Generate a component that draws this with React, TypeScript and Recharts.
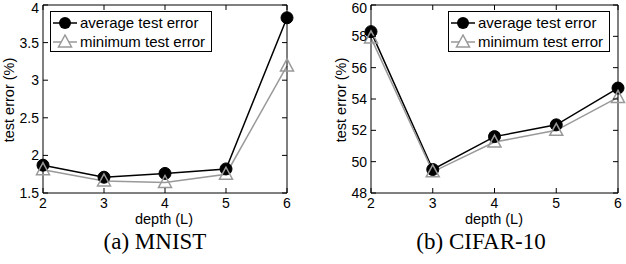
import React from "react";
import { Line, LineChart, XAxis, YAxis } from "recharts";

const depths = [2, 3, 4, 5, 6];
const mnistAvg = [1.87, 1.71, 1.76, 1.82, 3.83];
const mnistMin = [1.81, 1.66, 1.64, 1.75, 3.19];
const cifarAvg = [58.3, 49.5, 51.6, 52.35, 54.7];
const cifarMin = [57.9, 49.35, 51.25, 52.0, 54.1];
const mnistTicks = [1.5, 2, 2.5, 3, 3.5, 4];
const cifarTicks = [48, 50, 52, 54, 56, 58, 60];

const SANS = "'Liberation Sans', Arial, sans-serif";
const GRAY = "#999999";

const BottomTick = (props: any) => {
  const { x, y, payload } = props;
  return (
    <g>
      <line x1={x} x2={x} y1={y} y2={y - 5} stroke="#000" />
      <text x={x} y={y + 15} textAnchor="middle" fontSize={14} fontFamily={SANS} fill="#000">
        {payload.value}
      </text>
    </g>
  );
};

const LeftTick = (props: any) => {
  const { x, y, payload, index } = props;
  // the top label sits at the page edge; nudge it down so it stays visible
  const nudge = index === props.visibleTicksCount - 1 ? 3 : 0;
  return (
    <g>
      <line x1={x} x2={x + 5} y1={y} y2={y} stroke="#000" />
      <text x={x - 4} y={y + nudge} dy="0.36em" textAnchor="end" fontSize={14} fontFamily={SANS} fill="#000">
        {payload.value}
      </text>
    </g>
  );
};

const TopTick = (props: any) => (
  <line x1={props.x} x2={props.x} y1={props.y} y2={props.y + 5} stroke="#000" />
);

const RightTick = (props: any) => (
  <line x1={props.x} x2={props.x - 5} y1={props.y} y2={props.y} stroke="#000" />
);

const Circle = (props: any) => {
  const { cx, cy } = props;
  return <circle cx={cx} cy={cy} r={6} fill="#000" stroke="#000" />;
};

const Triangle = (props: any) => {
  const { cx, cy } = props;
  const pts = `${cx},${cy - 7} ${cx - 6.5},${cy + 5} ${cx + 6.5},${cy + 5}`;
  return <polygon points={pts} fill="none" stroke={GRAY} strokeWidth={1.5} />;
};

const LegendBox = ({ left }: { left: number }) => (
  <div
    style={{
      position: "absolute",
      left,
      top: 11,
      width: 160,
      height: 39,
      border: "1px solid #000",
      background: "#fff",
      fontFamily: SANS,
      fontSize: 15,
    }}
  >
    {[
      { label: "average test error", color: "#000", mark: "c" },
      { label: "minimum test error", color: GRAY, mark: "t" },
    ].map((r, i) => (
      <div key={i} style={{ display: "flex", alignItems: "center", height: 19, marginTop: i === 0 ? 1 : 0 }}>
        <svg width={29} height={16} style={{ display: "block" }}>
          <line x1={2} x2={26} y1={8} y2={8} stroke={r.color} strokeWidth={1.5} />
          {r.mark === "c" ? (
            <circle cx={14} cy={8} r={6} fill="#000" />
          ) : (
            <polygon points="14,1 7.5,13 20.5,13" fill="#fff" stroke={GRAY} strokeWidth={1.5} />
          )}
        </svg>
        <span style={{ lineHeight: "16px" }}>{r.label}</span>
      </div>
    ))}
  </div>
);

type PanelProps = {
  avg: number[];
  min: number[];
  ticks: number[];
  marginLeft: number;
  marginRight: number;
};

function Panel({ avg, min, ticks, marginLeft, marginRight }: PanelProps) {
  const data = depths.map((d, i) => ({ depth: d, avg: avg[i], min: min[i] }));
  const domain: [number, number] = [ticks[0], ticks[ticks.length - 1]];
  return (
    <LineChart
      width={313}
      height={226}
      data={data}
      margin={{ top: 14, right: marginRight, bottom: 22, left: marginLeft }}
    >
      <XAxis
        xAxisId="b"
        dataKey="depth"
        type="number"
        domain={[2, 6]}
        ticks={depths}
        height={1}
        tickSize={0}
        tickMargin={0}
        tickLine={false}
        tick={<BottomTick />}
        axisLine={{ stroke: "#000" }}
        interval={0}
      />
      <XAxis
        xAxisId="t"
        orientation="top"
        dataKey="depth"
        type="number"
        domain={[2, 6]}
        ticks={depths}
        height={1}
        tickSize={0}
        tickMargin={0}
        tickLine={false}
        tick={<TopTick />}
        axisLine={{ stroke: "#000" }}
        interval={0}
      />
      <YAxis
        yAxisId="l"
        type="number"
        domain={domain}
        ticks={ticks}
        width={1}
        tickSize={0}
        tickMargin={0}
        tickLine={false}
        tick={<LeftTick />}
        axisLine={{ stroke: "#000" }}
        interval={0}
      />
      <YAxis
        yAxisId="r"
        orientation="right"
        type="number"
        domain={domain}
        ticks={ticks}
        width={1}
        tickSize={0}
        tickMargin={0}
        tickLine={false}
        tick={<RightTick />}
        axisLine={{ stroke: "#000" }}
        interval={0}
      />
      <Line
        xAxisId="b"
        yAxisId="l"
        dataKey="avg"
        stroke="#000"
        strokeWidth={1.5}
        dot={<Circle />}
        isAnimationActive={false}
      />
      <Line
        xAxisId="t"
        yAxisId="r"
        dataKey="min"
        stroke={GRAY}
        strokeWidth={1.5}
        dot={<Triangle />}
        isAnimationActive={false}
      />
    </LineChart>
  );
}

const labelStyle: React.CSSProperties = {
  position: "absolute",
  fontFamily: SANS,
  fontSize: 14.5,
  lineHeight: "15px",
  whiteSpace: "nowrap",
};

const captionStyle: React.CSSProperties = {
  position: "absolute",
  top: 229,
  transform: "translateX(-50%)",
  fontFamily: "'Liberation Serif', 'Times New Roman', serif",
  fontSize: 23,
  whiteSpace: "nowrap",
};

export default function App() {
  return (
    <div style={{ position: "absolute", left: 0, top: 0, width: 626, height: 264, background: "#fff", overflow: "hidden" }}>
      <div style={{ position: "absolute", left: 0, top: -10 }}>
        <Panel avg={mnistAvg} min={mnistMin} ticks={mnistTicks} marginLeft={42} marginRight={25} />
      </div>
      <div style={{ position: "absolute", left: 313, top: -10 }}>
        <Panel avg={cifarAvg} min={cifarMin} ticks={cifarTicks} marginLeft={57} marginRight={7} />
      </div>
      <LegendBox left={50} />
      <LegendBox left={448} />

      <div style={{ ...labelStyle, left: 164, top: 212, transform: "translateX(-50%)" }}>depth (L)</div>
      <div style={{ ...labelStyle, left: 494, top: 212, transform: "translateX(-50%)" }}>depth (L)</div>
      <div style={{ ...labelStyle, left: 9, top: 100, transform: "translate(-50%, -50%) rotate(-90deg)" }}>
        test error (%)
      </div>
      <div style={{ ...labelStyle, left: 341, top: 100, transform: "translate(-50%, -50%) rotate(-90deg)" }}>
        test error (%)
      </div>

      <div style={{ ...captionStyle, left: 155 }}>(a) MNIST</div>
      <div style={{ ...captionStyle, left: 481 }}>(b) CIFAR-10</div>
    </div>
  );
}
